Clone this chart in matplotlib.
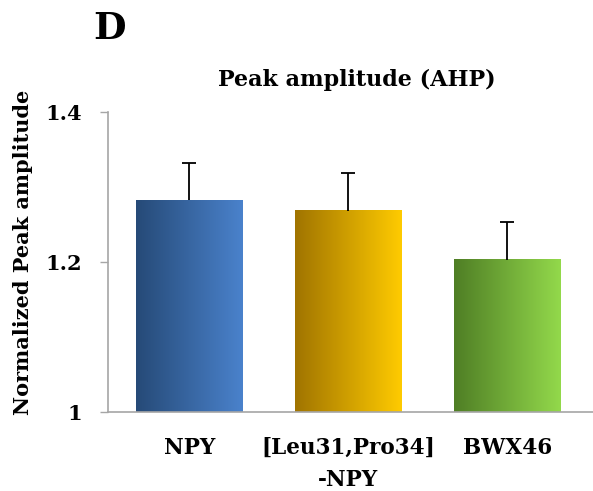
import numpy as np
import matplotlib.pyplot as plt
from matplotlib.colors import LinearSegmentedColormap

plt.rcParams['font.family'] = ['DejaVu Serif']
plt.rcParams['font.weight'] = 'bold'
plt.rcParams['axes.labelweight'] = 'bold'

categories = ["NPY", "[Leu31,Pro34]\n-NPY", "BWX46"]
values = [1.282, 1.268, 1.203]
errors = [0.05, 0.05, 0.05]
yticks = [1.0, 1.2, 1.4]
ytick_labels = ["1", "1.2", "1.4"]
gradients = [("#264a77", "#4a82cc"), ("#a07400", "#ffcb00"), ("#4f7e25", "#93d94b")]

fig = plt.figure(figsize=(5.93, 4.91), dpi=100)
ax = fig.add_axes([0.182, 0.161, 0.818, 0.611])

x = np.arange(len(categories))
width = 0.673
bars = ax.bar(x, [v - 1.0 for v in values], width=width, bottom=1.0,
              color="none", edgecolor="none", zorder=2)

# fill each bar with a horizontal gradient
grad = np.linspace(0, 1, 256).reshape(1, -1)
for bar, (c0, c1) in zip(bars, gradients):
    cmap = LinearSegmentedColormap.from_list("g", [c0, c1])
    x0, y0 = bar.get_x(), bar.get_y()
    w, h = bar.get_width(), bar.get_height()
    ax.imshow(grad, cmap=cmap, aspect="auto", extent=[x0, x0 + w, y0, y0 + h],
              zorder=2, interpolation="bilinear")

# upper error bars only
_, caps, _ = ax.errorbar(x, values, yerr=[[0] * len(errors), errors], fmt="none",
                         ecolor="black", elinewidth=1.3, capsize=5, capthick=1.3,
                         zorder=3)
caps[0].set_visible(False)

ax.set_xlim(-0.513, 2.538)
ax.set_ylim(1.0, 1.4)
ax.set_yticks(yticks)
ax.set_yticklabels(ytick_labels, fontsize=15)
ax.set_xticks(x)
ax.set_xticklabels(categories, fontsize=15.5, linespacing=1.6)
ax.tick_params(axis="x", length=0, pad=18)
ax.tick_params(axis="y", length=5.5, width=1.0, color="#a6a6a6", pad=13)

for s in ("top", "right"):
    ax.spines[s].set_visible(False)
for s in ("left", "bottom"):
    ax.spines[s].set_color("#a6a6a6")
    ax.spines[s].set_linewidth(1.2)

ax.set_ylabel("Normalized Peak amplitude", fontsize=15)
ax.yaxis.set_label_coords(-0.155, 0.533)
fig.text(0.602, 0.837, "Peak amplitude (AHP)", ha="center", va="center", fontsize=16)
fig.text(0.184, 0.941, "D", ha="center", va="center", fontsize=27, fontweight="bold")

fig.savefig("out.png", dpi=100)
